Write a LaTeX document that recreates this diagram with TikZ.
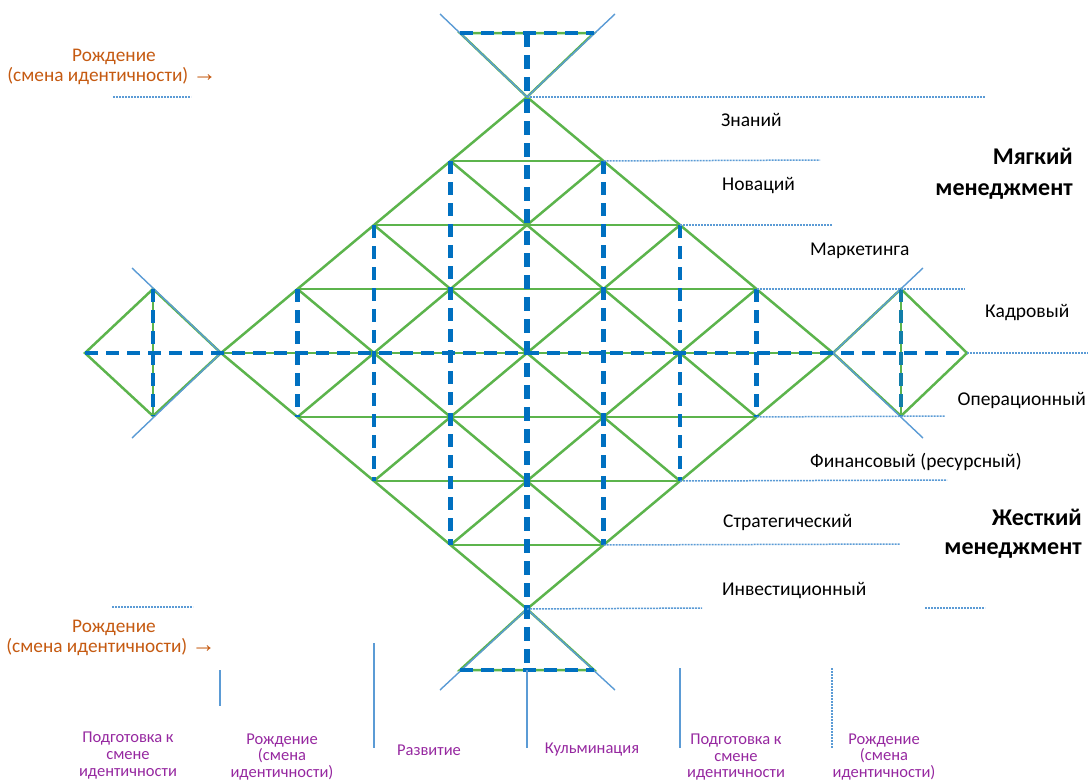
\documentclass[tikz,border=0pt]{standalone}
\usepackage{fontspec}
\setmainfont{Carlito}
\newfontfamily\arrowfont{Liberation Sans}
\definecolor{grn}{RGB}{92,180,76}
\definecolor{bdk}{RGB}{0,112,192}
\definecolor{blt}{RGB}{91,155,213}
\definecolor{orn}{RGB}{197,90,17}
\definecolor{prp}{RGB}{150,40,160}
\begin{document}
\begin{tikzpicture}[x=1pt,y=-1pt,
  grline/.style={draw=grn, line width=2.5pt},
  bdash/.style={draw=bdk, line width=4.5pt, dash pattern=on 13pt off 8pt},
  bdashc/.style={draw=bdk, line width=5.5pt, dash pattern=on 14pt off 8pt},
  thinb/.style={draw=blt, line width=1.4pt},
  dotl/.style={draw=blt, line width=1.5pt, dash pattern=on 2pt off 1pt},
  lbl/.style={font=\fontsize{19.5}{21}\selectfont, text=black, inner sep=0pt},
  blbl/.style={font=\fontsize{24}{26}\selectfont\bfseries, text=black, inner sep=0pt},
  olbl/.style={font=\fontsize{19.3}{21}\selectfont, text=orn, inner sep=0pt},
  plbl/.style={font=\fontsize{16.5}{17}\selectfont, text=prp, inner sep=0pt}]
\useasboundingbox (0,0) rectangle (1088,782);
% lattice coordinates g<i><j>, u=i-4, v=j-4
\foreach \i in {0,...,8}{
  \foreach \j in {0,...,8}{
    \coordinate (g\i\j) at ({527+76.5*(\i-4)},{353+64*(\j-4)});
  }
}
% side and extra coordinates
\coordinate (lL) at (85,353);  \coordinate (lT) at (153,289);
\coordinate (lB) at (153,416); \coordinate (rR) at (967,353);
\coordinate (rT) at (901,289); \coordinate (rB) at (901,416);
\coordinate (tL) at (460,33);  \coordinate (tR) at (594,33);
\coordinate (tM) at (527,33);
\coordinate (bL) at (460,670); \coordinate (bR) at (594,670);
\coordinate (bM) at (527,670);
\coordinate (eTL) at (440,14); \coordinate (eTR) at (615,14);
\coordinate (eBL) at (440,690); \coordinate (eBR) at (615,690);
\coordinate (eLT) at (132,268); \coordinate (eLB) at (132,438);
\coordinate (eRT) at (923,268); \coordinate (eRB) at (923,438);

% ---- green lattice ----
\draw[grline] (g40) -- (g04) -- (g48) -- (g84) -- cycle;
\foreach \j/\a/\b in {1/3/5,2/2/6,3/1/7,4/0/8,5/1/7,6/2/6,7/3/5}{
  \draw[grline] (g\a\j) -- (g\b\j);
}
\draw[grline] (g51) -- (g15);
\draw[grline] (g62) -- (g26);
\draw[grline] (g73) -- (g37);
\draw[grline] (g31) -- (g75);
\draw[grline] (g22) -- (g66);
\draw[grline] (g13) -- (g57);
% side diamonds and triangles
\draw[grline] (lL) -- (lT) -- (g04) -- (lB) -- cycle;
\draw[grline] (lT) -- (lB);
\draw[grline] (g84) -- (rT) -- (rR) -- (rB) -- cycle;
\draw[grline] (rT) -- (rB);
\draw[grline] (tL) -- (tR) -- (g40) -- cycle;
\draw[grline] (bL) -- (bR) -- (g48) -- cycle;

% ---- thin blue lines ----
\draw[thinb] (eTL) -- (g40) -- (eTR);
\draw[thinb] (eBL) -- (g48) -- (eBR);
\draw[thinb] (eLT) -- (g04) -- (eLB);
\draw[thinb] (eRT) -- (g84) -- (eRB);

% ---- dashed blue ----
\draw[bdash] (lL) -- (rR);
\draw[bdash] (g13) -- (g15);
\draw[bdash] (g22) -- (g26);
\draw[bdash] (g31) -- (g37);
\draw[bdash] (g51) -- (g57);
\draw[bdash] (g62) -- (g66);
\draw[bdash] (g73) -- (g75);
\draw[bdashc] (tM) -- (bM);
\draw[bdash] (tL) -- (tR);
\draw[bdash] (bL) -- (bR);
\draw[bdash, line width=4pt] (lT) -- (lB);
\draw[bdash, line width=3.5pt, draw=bdk!80!grn] (rT) -- (rB);

% ---- dotted level lines ----
\coordinate (d0) at (985,97);
\coordinate (d1) at (820,160);
\coordinate (d2) at (832,225);
\coordinate (d3) at (965,289);
\coordinate (d4a) at (1088,353);
\coordinate (d5) at (945,416);
\coordinate (d6) at (947,480);
\coordinate (d7) at (900,544);
\coordinate (d8) at (702,608);
\draw[dotl] (g40) -- (d0);
\draw[dotl] (g51) -- (d1);
\draw[dotl] (g62) -- (d2);
\draw[dotl] (g73) -- (d3);
\draw[dotl] (rR) -- (d4a);
\draw[dotl] (g75) -- (d5);
\draw[dotl] (g66) -- (d6);
\draw[dotl] (g57) -- (d7);
\draw[dotl] (g48) -- (d8);
\coordinate (dl1a) at (113,97);  \coordinate (dl1b) at (191,97);
\coordinate (dl2a) at (112,607); \coordinate (dl2b) at (193,607);
\coordinate (dr2a) at (925,608); \coordinate (dr2b) at (985,608);
\draw[dotl] (dl1a) -- (dl1b);
\draw[dotl] (dl2a) -- (dl2b);
\draw[dotl] (dr2a) -- (dr2b);

% ---- bottom separators ----
\coordinate (s1a) at (220,670); \coordinate (s1b) at (220,706);
\coordinate (s2a) at (374,643); \coordinate (s2b) at (374,748);
\coordinate (s3b) at (527,748);
\coordinate (s4a) at (680,668); \coordinate (s4b) at (680,748);
\coordinate (s5a) at (832,668); \coordinate (s5b) at (832,748);
\draw[thinb] (s1a) -- (s1b);
\draw[thinb] (s2a) -- (s2b);
\draw[thinb] (bM) -- (s3b);
\draw[thinb] (s4a) -- (s4b);
\draw[dotl] (s5a) -- (s5b);

% ---- right labels ----
\node[lbl, anchor=base west] (tZn) at (721,126) {Знаний};
\node[lbl, anchor=base west] (tNv) at (722,190) {Новаций};
\node[lbl, anchor=base west] (tMk) at (810,255) {Маркетинга};
\node[lbl, anchor=base west] (tKd) at (985,317) {Кадровый};
\node[lbl, anchor=base east] (tOp) at (1086,405) {Операционный};
\node[lbl, anchor=base west] (tFn) at (810,467) {Финансовый (ресурсный)};
\node[lbl, anchor=base west] (tSt) at (723,527) {Стратегический};
\node[lbl, anchor=base west] (tIn) at (722,595) {Инвестиционный};
\node[blbl, anchor=base east] (tM1) at (1073,164) {Мягкий};
\node[blbl, anchor=base east] (tM2) at (1073,195) {менеджмент};
\node[blbl, anchor=base east] (tJ1) at (1082,525) {Жесткий};
\node[blbl, anchor=base east] (tJ2) at (1082,554) {менеджмент};

% ---- orange labels ----
\node[olbl, anchor=base] (oA1) at (114,61) {Рождение};
\node[olbl, anchor=base] (oA2) at (112,81) {(смена идентичности) {\arrowfont\fontsize{24}{24}\selectfont →}};
\node[olbl, anchor=base] (oB1) at (114,632) {Рождение};
\node[olbl, anchor=base] (oB2) at (111,652) {(смена идентичности) {\arrowfont\fontsize{24}{24}\selectfont →}};

% ---- purple stage labels ----
\node[plbl, anchor=base] (p1a) at (128,742) {Подготовка к};
\node[plbl, anchor=base] (p1b) at (128,759) {смене};
\node[plbl, anchor=base] (p1c) at (128,776) {идентичности};
\node[plbl, anchor=base] (p2a) at (282,744) {Рождение};
\node[plbl, anchor=base] (p2b) at (282,760) {(смена};
\node[plbl, anchor=base] (p2c) at (282,777) {идентичности)};
\node[plbl, anchor=base] (p3) at (429,755) {Развитие};
\node[plbl, anchor=base] (p4) at (592,753) {Кульминация};
\node[plbl, anchor=base] (p5a) at (736,744) {Подготовка к};
\node[plbl, anchor=base] (p5b) at (736,761) {смене};
\node[plbl, anchor=base] (p5c) at (736,777) {идентичности};
\node[plbl, anchor=base] (p6a) at (884,744) {Рождение};
\node[plbl, anchor=base] (p6b) at (884,760) {(смена};
\node[plbl, anchor=base] (p6c) at (884,777) {идентичности)};
\end{tikzpicture}
\end{document}
